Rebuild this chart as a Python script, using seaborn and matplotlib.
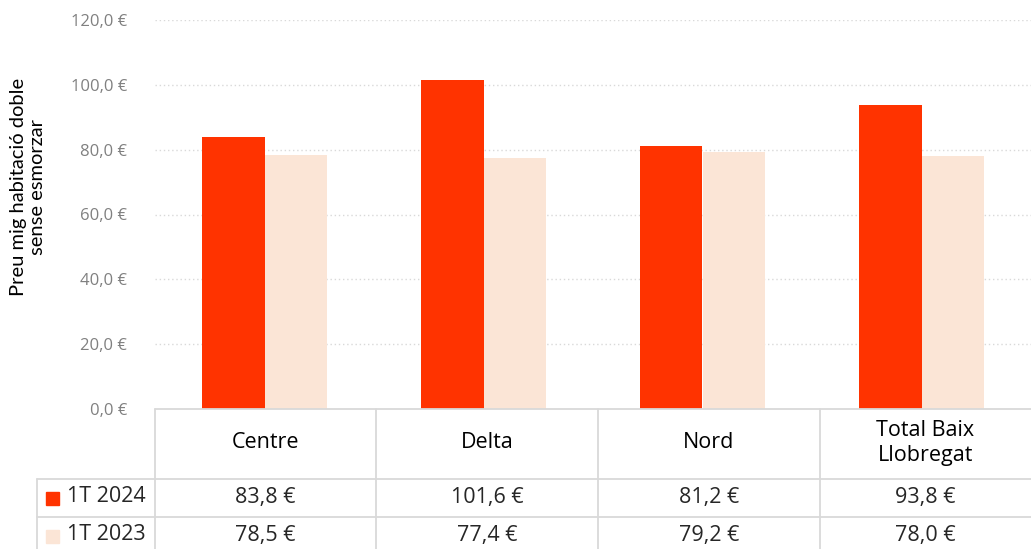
import matplotlib
matplotlib.use("Agg")
import matplotlib.pyplot as plt
import seaborn as sns
import pandas as pd
from matplotlib.lines import Line2D
from matplotlib.patches import Rectangle

categories = ["Centre", "Delta", "Nord", "Total Baix\nLlobregat"]
series_names = ["1T 2024", "1T 2023"]
values_2024 = [83.8, 101.6, 81.2, 93.8]
values_2023 = [78.5, 77.4, 79.2, 78.0]
yticks = [0, 20, 40, 60, 80, 100, 120]
colors = ["#FF3300", "#FBE5D6"]

sns.set_theme(style="white")
plt.rcParams["font.family"] = ["Open Sans", "DejaVu Sans"]

df = pd.DataFrame({
    "cat": categories * 2,
    "serie": [series_names[0]] * 4 + [series_names[1]] * 4,
    "val": values_2024 + values_2023,
})

W, H = 1031, 549
fig = plt.figure(figsize=(W / 100, H / 100), dpi=100)
left_px, right_px, top_px, bottom_px = 155, 1031, 20, 409
ax = fig.add_axes([left_px / W, 1 - bottom_px / H, (right_px - left_px) / W, (bottom_px - top_px) / H])

sns.barplot(data=df, x="cat", y="val", hue="serie", palette=colors, width=0.575,
            ax=ax, legend=False, saturation=1, linewidth=0)
ax.set_ylim(0, 120)
ax.set_xlim(-0.5, 3.5)
ax.set_yticks(yticks)
ax.set_yticklabels([f"{v:.1f}".replace(".", ",") + " €" for v in yticks], color="#808080", fontsize=12)
ax.tick_params(axis="y", length=0, pad=20)
ax.set_xticks([])
ax.set_xlabel("")
ax.set_ylabel("")
for s in ax.spines.values():
    s.set_visible(False)
for v in yticks[1:]:
    ax.axhline(v, color="#D9D9D9", linestyle=(0, (1, 2)), linewidth=1, zorder=0)

def fx(px):
    return px / W

def fy(py):
    return 1 - py / H

fig.text(fx(28), fy(187), "Preu mig habitació doble\nsense esmorzar", rotation=90,
         ha="center", va="center", fontsize=14.5, family=["Lato", "DejaVu Sans"],
         color="#000000", linespacing=1.15)

lc = "#D9D9D9"
lw = 1.3
col_x = [155, 376, 598, 820, 1031]
fig.add_artist(Line2D([fx(155), fx(1031)], [fy(409), fy(409)], color=lc, lw=lw))
fig.add_artist(Line2D([fx(37), fx(1031)], [fy(479), fy(479)], color=lc, lw=lw))
fig.add_artist(Line2D([fx(37), fx(1031)], [fy(517), fy(517)], color=lc, lw=lw))
for x in col_x[:-1]:
    fig.add_artist(Line2D([fx(x), fx(x)], [fy(409), fy(549)], color=lc, lw=lw))
fig.add_artist(Line2D([fx(37), fx(37)], [fy(479), fy(549)], color=lc, lw=lw))

tfs = 15.5
for i, cat in enumerate(categories):
    cx = (col_x[i] + col_x[i + 1]) / 2
    fig.text(fx(cx), fy(443), cat, ha="center", va="center", fontsize=tfs, color="#000000", linespacing=1.2)
    fig.text(fx(cx), fy(497), f"{values_2024[i]:.1f}".replace(".", ",") + " €", ha="center", va="center", fontsize=tfs)
    fig.text(fx(cx), fy(535), f"{values_2023[i]:.1f}".replace(".", ",") + " €", ha="center", va="center", fontsize=tfs)

for j, (name, c, yy) in enumerate(zip(series_names, colors, [498, 536])):
    fig.add_artist(Rectangle((fx(46), fy(yy + 6.5)), 13 / W, 13 / H, color=c, transform=fig.transFigure))
    fig.text(fx(67), fy(yy - 1), name, ha="left", va="center", fontsize=tfs)

fig.savefig("out.png", dpi=100)
